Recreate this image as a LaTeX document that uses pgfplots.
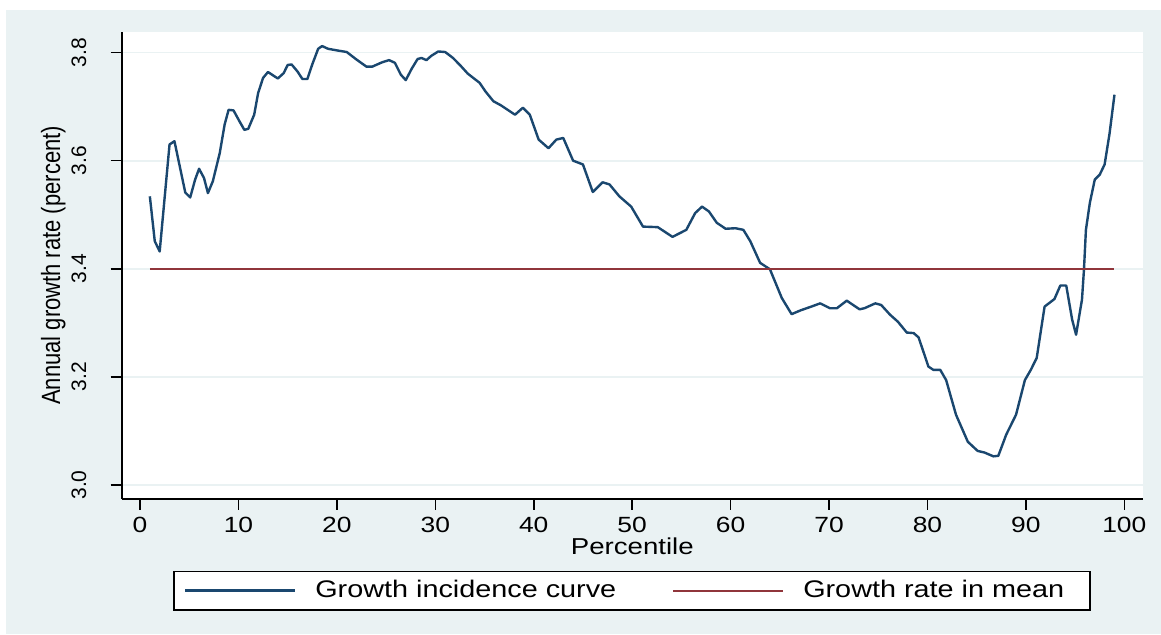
\documentclass[border=0pt]{standalone}
\usepackage{fontspec}
\setmainfont{Liberation Sans}
\newfontfamily\st[FakeStretch=1.2]{Liberation Sans}
\usepackage{graphicx}
\usepackage{pgfplots}
\pgfplotsset{compat=1.18}
\definecolor{bg}{HTML}{EAF2F3}
\definecolor{navy}{HTML}{1A476F}
\definecolor{maroon}{HTML}{90353B}

\pgfplotstableread{
x y
1.0 3.534
1.5 3.451
2.0 3.432
3.0 3.630
3.5 3.636
4.6 3.541
5.1 3.532
5.6 3.565
6.0 3.585
6.5 3.568
6.9 3.540
7.4 3.562
8.1 3.614
8.6 3.667
9.0 3.694
9.5 3.693
10.1 3.673
10.6 3.657
11.0 3.659
11.6 3.685
12.0 3.725
12.5 3.753
13.0 3.764
14.0 3.752
14.6 3.762
15.0 3.777
15.4 3.778
16.0 3.765
16.5 3.751
17.0 3.751
17.5 3.778
18.1 3.807
18.5 3.812
19.1 3.807
20.0 3.804
21.0 3.801
22.0 3.787
23.0 3.774
23.6 3.774
24.6 3.782
25.3 3.786
25.9 3.781
26.5 3.759
27.0 3.749
27.6 3.770
28.2 3.788
28.6 3.790
29.1 3.786
29.6 3.794
30.3 3.802
31.0 3.801
31.8 3.790
32.6 3.775
33.3 3.761
34.5 3.744
35.1 3.728
35.9 3.710
36.7 3.702
38.1 3.685
38.9 3.698
39.6 3.685
40.5 3.639
41.5 3.623
42.3 3.639
43.0 3.642
44.0 3.600
45.0 3.593
46.0 3.542
47.0 3.560
47.7 3.556
48.7 3.534
49.9 3.515
51.1 3.478
52.6 3.477
54.1 3.459
55.5 3.472
56.4 3.503
57.1 3.515
57.8 3.506
58.6 3.485
59.5 3.474
60.5 3.475
61.3 3.472
62.0 3.451
63.0 3.411
64.0 3.399
65.2 3.346
66.2 3.316
67.1 3.323
68.2 3.330
69.1 3.336
70.1 3.327
70.8 3.327
71.8 3.341
73.1 3.325
73.6 3.327
74.7 3.336
75.3 3.333
76.2 3.315
77.0 3.302
77.9 3.282
78.6 3.281
79.1 3.273
80.1 3.219
80.6 3.213
81.3 3.213
81.9 3.194
82.9 3.130
84.1 3.080
85.1 3.063
85.8 3.060
86.7 3.053
87.2 3.054
88.0 3.093
89.0 3.130
89.9 3.194
90.5 3.213
91.1 3.235
91.9 3.330
92.9 3.344
93.5 3.369
94.1 3.369
94.7 3.306
95.1 3.278
95.7 3.343
95.9 3.398
96.1 3.472
96.5 3.522
97.0 3.565
97.5 3.574
98.0 3.593
98.5 3.650
99.0 3.722
}\gic

\begin{document}
\begin{tikzpicture}
\useasboundingbox (0,0) rectangle (580.5pt,317pt);
\fill[bg] (3pt,0) rectangle (580.5pt,312pt);
\begin{axis}[
  at={(60.85pt,67.65pt)}, anchor=south west,
  width=510.65pt, height=233.35pt, scale only axis,
  xmin=-1.86, xmax=101.9, ymin=2.9746, ymax=3.838,
  axis x line=bottom, axis y line=left,
  axis line style={-, black, line width=0.8pt},
  axis background/.style={fill=white},
  xtick={0,10,...,100}, ytick={3.0,3.2,3.4,3.6,3.8},
  tick align=outside, major tick length=5.5pt,
  tick style={black, line width=0.8pt},
  ymajorgrids, grid style={bg, line width=0.9pt},
  /pgf/number format/assume math mode=true,
  yticklabel style={rotate=90, anchor=south, inner sep=0pt,
    font=\fontsize{10.5}{12}\selectfont,
    /pgf/number format/.cd, fixed, fixed zerofill, precision=1},
  xticklabel style={anchor=north, inner sep=0pt, font=\fontsize{11}{13}\selectfont\st},
  yticklabel shift=12pt,
  xticklabel shift=3.7pt,
  xlabel={Percentile},
  xlabel style={at={(axis description cs:0.5,-0.1200)}, anchor=base, inner sep=0pt,
    font=\fontsize{11.5}{13}\selectfont\st},
  ylabel={\scalebox{1}[1.2]{Annual growth rate (percent)}},
  ylabel style={at={(axis description cs:-0.0604,0.5)}, anchor=base, inner sep=0pt,
    font=\fontsize{11}{13}\selectfont},
  legend columns=2,
  legend cell align=left,
  legend image code/.code={\draw[#1] (0pt,0pt) -- (55pt,0pt);},
  legend style={at={(axis description cs:0.4997,-0.1967)}, anchor=center,
    draw=black, line width=0.8pt, fill=white,
    inner xsep=5pt, inner ysep=4.5pt,
    font=\fontsize{12}{14}\selectfont\st,
    nodes={inner sep=0pt},
    /tikz/every odd column/.append style={column sep=9.5pt},
    /tikz/every even column/.append style={column sep=28pt}},
]
\addplot[navy, line width=1.2pt, line join=round] table[x=x,y=y] {\gic};
\addlegendentry{Growth incidence curve}
\addplot[maroon, line width=1pt] coordinates {(1,3.4) (99,3.4)};
\addlegendentry{Growth rate in mean\hspace*{8pt}}
\end{axis}
\end{tikzpicture}
\end{document}
